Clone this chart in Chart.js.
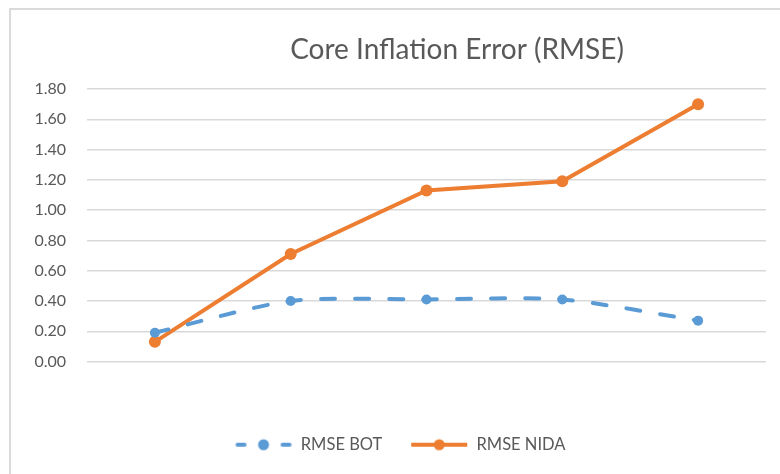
<!DOCTYPE html>
<html>
<head>
<meta charset="utf-8">
<script src="https://cdn.jsdelivr.net/npm/chart.js@4/dist/chart.umd.min.js"></script>
<style>
  html, body { margin: 0; padding: 0; background: #fff; overflow: hidden; }
  #frame { position: absolute; left: 9px; top: 8px; width: 800px; height: 500px; border: 2px solid #dadada; box-sizing: border-box; }
  #wrap { position: absolute; left: 0; top: 0; width: 780px; height: 474px; }
</style>
</head>
<body>
<div id="frame"></div>
<div id="wrap"><canvas id="c" width="780" height="474"></canvas></div>
<script>
const categories = ["", "", "", "", ""];
const rmseBot = [0.19, 0.40, 0.41, 0.41, 0.27];
const rmseNida = [0.13, 0.71, 1.13, 1.19, 1.70];
const seriesNames = ["RMSE BOT", "RMSE NIDA"];
const titleText = "Core Inflation Error (RMSE)";

const BLUE = "#5B9BD5";
const ORANGE = "#ED7D31";
const FONT = "Lato, 'Open Sans', sans-serif";
const ICON_PAD = 20;

function legendIcon(color, dashed) {
  const cv = document.createElement("canvas");
  cv.width = 58 + ICON_PAD; cv.height = 14;
  const g = cv.getContext("2d");
  g.translate(ICON_PAD, 0);
  g.strokeStyle = color; g.fillStyle = color; g.lineWidth = 4;
  if (dashed) {
    g.lineCap = "round";
    g.beginPath(); g.moveTo(3, 7); g.lineTo(10, 7); g.stroke();
    g.beginPath(); g.moveTo(48, 7); g.lineTo(55, 7); g.stroke();
  } else {
    g.lineCap = "butt";
    g.beginPath(); g.moveTo(1, 7); g.lineTo(57, 7); g.stroke();
  }
  g.beginPath(); g.arc(29, 7, 5.5, 0, Math.PI * 2); g.fill();
  return cv;
}
const icons = [legendIcon(BLUE, true), legendIcon(ORANGE, false)];

const titlePlugin = {
  id: "customTitle",
  afterDraw(chart) {
    const ctx = chart.ctx;
    ctx.save();
    ctx.font = "28px " + FONT;
    ctx.fillStyle = "#595959";
    ctx.textAlign = "center";
    ctx.textBaseline = "middle";
    ctx.fillText(titleText, 457, 50);
    ctx.restore();
  }
};

new Chart(document.getElementById("c"), {
  type: "line",
  data: {
    labels: categories,
    datasets: [
      {
        label: seriesNames[0],
        data: rmseBot,
        borderColor: BLUE,
        backgroundColor: BLUE,
        borderWidth: 4,
        borderDash: [14, 20],
        borderCapStyle: "round",
        pointRadius: 5,
        pointHoverRadius: 5,
        pointBorderWidth: 0,
        tension: 0.25,
        fill: false
      },
      {
        label: seriesNames[1],
        data: rmseNida,
        borderColor: ORANGE,
        backgroundColor: ORANGE,
        borderWidth: 4,
        pointRadius: 6,
        pointHoverRadius: 6,
        pointBorderWidth: 0,
        tension: 0,
        fill: false
      }
    ]
  },
  options: {
    responsive: false,
    animation: false,
    layout: { padding: { top: 89, left: 14, right: 14, bottom: 11 } },
    plugins: {
      title: { display: false },
      tooltip: { enabled: false },
      legend: {
        position: "bottom",
        labels: {
          usePointStyle: true,
          pointStyleWidth: 58 + ICON_PAD,
          font: { family: FONT, size: 16.5 },
          color: "#595959",
          padding: 8,
          generateLabels(chart) {
            return chart.data.datasets.map((ds, i) => ({
              text: ds.label,
              pointStyle: icons[i],
              fillStyle: ds.borderColor,
              strokeStyle: ds.borderColor,
              lineWidth: 0,
              fontColor: "#595959",
              datasetIndex: i,
              hidden: false
            }));
          }
        }
      }
    },
    scales: {
      x: {
        offset: true,
        grid: { display: false, drawTicks: false },
        border: { display: false },
        ticks: { display: false },
        afterFit(scale) { scale.height = 67; }
      },
      y: {
        min: 0,
        max: 1.8,
        ticks: {
          stepSize: 0.2,
          color: "#595959",
          font: { family: FONT, size: 16 },
          padding: 21,
          callback: v => Number(v).toFixed(2)
        },
        afterFit(scale) { scale.width = 73; },
        grid: { color: "#d9d9d9", lineWidth: 1.4, drawTicks: false },
        border: { display: false }
      }
    }
  },
  plugins: [titlePlugin]
});
</script>
</body>
</html>
